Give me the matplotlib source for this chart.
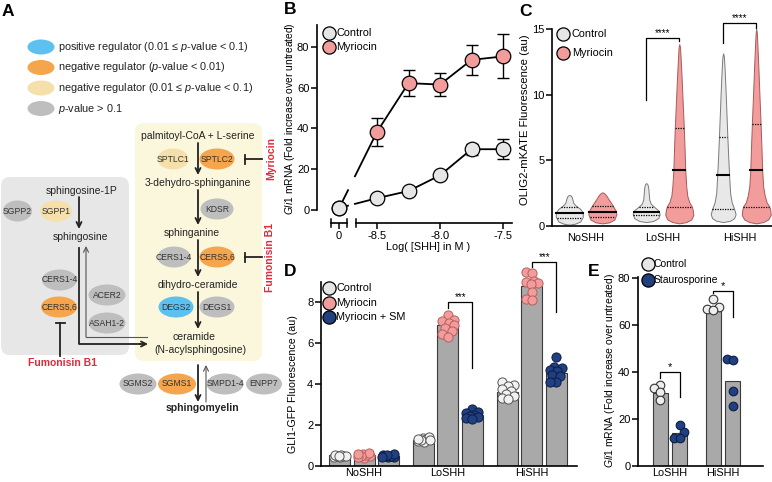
import matplotlib.pyplot as plt
import numpy as np
from matplotlib.patches import Ellipse, FancyBboxPatch

plt.rcParams['font.family'] = ['Liberation Sans', 'DejaVu Sans']
plt.rcParams['mathtext.fontset'] = 'custom'
plt.rcParams['mathtext.rm'] = 'Liberation Sans'
plt.rcParams['mathtext.it'] = 'Liberation Sans:italic'
plt.rcParams['axes.linewidth'] = 1.2
plt.rcParams['xtick.major.width'] = 1.1
plt.rcParams['ytick.major.width'] = 1.1

# ---------------- data ----------------
# panel A: pathway
enzyme_names = ["SGPP2", "SGPP1", "CERS1-4", "CERS5,6", "ACER2", "ASAH1-2",
                "SPTLC1", "SPTLC2", "KDSR", "CERS1-4", "CERS5,6", "DEGS2", "DEGS1",
                "SGMS2", "SGMS1", "SMPD1-4", "ENPP7"]
enzyme_class = ["ns", "neg_weak", "ns", "neg", "ns", "ns",
                "neg_weak", "neg", "ns", "ns", "neg", "pos", "ns",
                "ns", "neg", "ns", "ns"]
class_order = ["pos", "neg", "neg_weak", "ns"]
class_labels = ["positive regulator (0.01 \u2264 $\\it{p}$-value < 0.1)",
                "negative regulator ($\\it{p}$-value < 0.01)",
                "negative regulator (0.01 \u2264 $\\it{p}$-value < 0.1)",
                "$\\it{p}$-value > 0.1"]
metabolites = ["palmitoyl-CoA + L-serine", "3-dehydro-sphinganine", "sphinganine",
               "dihydro-ceramide", "ceramide", "(N-acylsphingosine)",
               "sphingosine-1P", "sphingosine"]

# panel B: dose response
shh_log = [-8.5, -8.25, -8.0, -7.75, -7.5]
b_ctrl = [1.0, 5.8, 9.3, 17.0, 29.8, 29.8]      # first value = no SHH
b_ctrl_err = [0.3, 0.6, 0.8, 1.2, 2.8, 4.8]
b_myr = [1.0, 38.3, 62.2, 61.5, 73.6, 75.3]
b_myr_err = [0.5, 7.0, 6.3, 5.8, 7.3, 10.8]

# panel C: violins (value grid, relative density), quartiles
conds = ["NoSHH", "LoSHH", "HiSHH"]
violin_y = {
    "No-C": [0.1, 0.18, 0.35, 0.7, 1.0, 1.3, 1.55, 1.75, 2.05, 2.25, 2.33, 2.36],
    "No-M": [0.2, 0.28, 0.5, 0.9, 1.2, 1.6, 2.0, 2.3, 2.45, 2.53, 2.56],
    "Lo-C": [0.3, 0.38, 0.6, 0.9, 1.2, 1.45, 1.7, 2.0, 2.5, 2.9, 3.12, 3.22, 3.26],
    "Lo-M": [0.2, 0.3, 0.5, 0.85, 1.2, 1.5, 1.8, 2.3, 3.0, 4.25, 6.0, 7.5, 9.5, 11.5, 13.0, 13.6, 13.85],
    "Hi-C": [0.3, 0.4, 0.6, 0.9, 1.3, 1.8, 2.5, 3.9, 5.5, 6.8, 8.5, 10.5, 12.2, 12.9, 13.15],
    "Hi-M": [0.2, 0.3, 0.5, 0.85, 1.2, 1.5, 1.8, 2.3, 3.0, 4.25, 6.0, 7.8, 10.0, 12.0, 13.8, 14.7, 15.0],
}
violin_w = {
    "No-C": [0, 0.41, 0.76, 0.93, 0.93, 0.76, 0.45, 0.28, 0.21, 0.15, 0.08, 0],
    "No-M": [0, 0.48, 0.83, 0.97, 0.9, 0.69, 0.45, 0.28, 0.17, 0.08, 0],
    "Lo-C": [0, 0.48, 0.83, 0.93, 0.83, 0.55, 0.31, 0.21, 0.17, 0.14, 0.1, 0.06, 0],
    "Lo-M": [0, 0.48, 0.83, 0.97, 0.93, 0.86, 0.69, 0.55, 0.48, 0.41, 0.36, 0.31, 0.23, 0.15, 0.08, 0.05, 0],
    "Hi-C": [0, 0.48, 0.76, 0.86, 0.76, 0.59, 0.48, 0.41, 0.34, 0.29, 0.23, 0.16, 0.09, 0.05, 0],
    "Hi-M": [0, 0.48, 0.83, 1.0, 0.97, 0.9, 0.72, 0.59, 0.48, 0.41, 0.36, 0.3, 0.22, 0.15, 0.08, 0.04, 0],
}
violin_q1 = {"No-C": 0.6, "No-M": 0.66, "Lo-C": 0.8, "Lo-M": 1.45, "Hi-C": 1.3, "Hi-M": 1.45}
violin_med = {"No-C": 0.99, "No-M": 1.09, "Lo-C": 1.08, "Lo-M": 4.25, "Hi-C": 3.9, "Hi-M": 4.25}
violin_q3 = {"No-C": 1.45, "No-M": 1.52, "Lo-C": 1.47, "Lo-M": 7.45, "Hi-C": 6.8, "Hi-M": 7.8}
c_sig = [(1, 9.6, 14.05, 14.3, "****"), (2, 13.9, 15.05, 15.45, "****")]

# panel D: GLI1-GFP
d_ctrl = [0.54, 1.27, 3.61]
d_myr = [0.56, 6.88, 8.78]
d_sm = [0.50, 2.49, 4.54]
d_ctrl_pts = [[0.42, 0.45, 0.48, 0.5, 0.52, 0.55, 0.47, 0.5],
              [1.22, 1.35, 1.30, 1.40, 1.18, 1.28, 1.33, 1.25],
              [4.1, 3.95, 3.9, 3.75, 3.65, 3.5, 3.4, 3.3, 3.25]]
d_myr_pts = [[0.40, 0.48, 0.55, 0.6, 0.62, 0.5, 0.45, 0.58],
             [7.35, 7.1, 7.05, 6.95, 6.85, 6.75, 6.6, 6.45, 6.3],
             [9.45, 9.4, 9.0, 8.95, 8.9, 8.85, 8.5, 8.15, 8.1]]
d_sm_pts = [[0.42, 0.45, 0.5, 0.55, 0.6, 0.48, 0.52, 0.44],
            [2.8, 2.65, 2.6, 2.5, 2.45, 2.4, 2.35, 2.3],
            [5.3, 4.85, 4.8, 4.7, 4.65, 4.45, 4.4, 4.1, 4.1]]
d_sig = [(1, 7.7, 4.78, 8.0, "***"), (2, 9.7, 7.5, 9.95, "***")]

# panel E: staurosporine
e_conds = ["LoSHH", "HiSHH"]
e_ctrl = [31.0, 67.6]
e_stau = [14.0, 36.2]
e_ctrl_pts = [[34.5, 33.0, 31.5, 28.0], [71.0, 67.5, 66.8, 66.5]]
e_stau_pts = [[17.5, 14.5, 12.0, 12.0], [45.5, 45.2, 32.0, 25.5]]
e_sig = [(0, 37.4, 29.4, 40.0, "*"), (1, 73.6, 63.4, 74.5, "*")]

# ---------------- style ----------------
C_GREY = '#e6e6e6'
C_PINK = '#f29c9c'
C_NAVY = '#21407f'
C_RED = '#e02a3a'
BAR = '#a9a9a9'
cls_color = {"pos": '#5cc1ef', "neg": '#f5a54c', "neg_weak": '#f5e0ac', "ns": '#bebebe'}
FS = 7.8

W, H = 772, 482
fig = plt.figure(figsize=(W / 100, H / 100), dpi=100)


def px_axes(x0, y0, x1, y1):
    ax = fig.add_axes([x0 / W, 1 - y1 / H, (x1 - x0) / W, (y1 - y0) / H])
    ax.patch.set_alpha(0)
    for s in ('top', 'right'):
        ax.spines[s].set_visible(False)
    ax.tick_params(labelsize=8, length=4, pad=1.5, direction='out')
    return ax


def swarm(values, center, xscale, yscale, diam, max_off):
    xs = np.zeros(len(values))
    placed = []
    cands = sorted(np.arange(-max_off, max_off + 0.1, 1.0), key=abs)
    for i in np.argsort(values):
        ypx = values[i] * yscale
        best, alt, alt_d = None, 0.0, -1
        for c in cands:
            dmin = min([np.hypot(c - px, ypx - py) for px, py in placed], default=1e9)
            if dmin >= 0.8 * diam:
                best = c
                break
            if dmin > alt_d:
                alt, alt_d = c, dmin
        if best is None:
            best = alt
        placed.append((best, ypx))
        xs[i] = center + best / xscale
    return xs


def bracket(ax, xl, xr, yl, yr, top, label, fs=7):
    ax.plot([xl, xl, xr, xr], [yl, top, top, yr], color='k', lw=0.9, clip_on=False)
    ax.text((xl + xr) / 2, top, label, ha='center', va='bottom', fontsize=fs)

# ---------------- panel B ----------------
ZERO_POS = -8.80
BREAK_L, BREAK_R = -8.73, -8.675
axB = px_axes(317, 25, 512, 223)
axB.set_xlim(-8.976, -7.429)
axB.set_ylim(-6.37, 90.7)
axB.spines['bottom'].set_visible(False)
axB.spines['left'].set_bounds(0, 90.7)
axB.set_yticks([0, 20, 40, 60, 80])
axB.set_xticks([ZERO_POS, -8.5, -8.0, -7.5])
axB.set_xticklabels(['0', '-8.5', '-8.0', '-7.5'])
tr = axB.get_xaxis_transform()
cap = 4 / 198
axB.plot([-8.865, -8.735], [0, 0], color='k', lw=1.2, transform=tr, clip_on=False)
axB.plot([-8.667, -7.429], [0, 0], color='k', lw=1.2, transform=tr, clip_on=False)
for xc in (-8.865, -8.735, -8.667):
    axB.plot([xc, xc], [-cap, cap], color='k', lw=1.1, transform=tr, clip_on=False)

xs_b = [ZERO_POS] + shh_log
for vals, errs, fc in ((b_myr, b_myr_err, C_PINK), (b_ctrl, b_ctrl_err, C_GREY)):
    yb = np.interp([BREAK_L, BREAK_R], xs_b[:2], vals[:2])
    axB.plot([xs_b[0], BREAK_L], [vals[0], yb[0]], color='k', lw=1.3, zorder=2)
    axB.plot([BREAK_R] + xs_b[1:], [yb[1]] + vals[1:], color='k', lw=1.3, zorder=2)
    axB.errorbar(xs_b, vals, yerr=errs, fmt='none', ecolor='k', elinewidth=1.0,
                 capsize=4.5, capthick=1.0, zorder=2)
    axB.plot(xs_b, vals, 'o', ms=10.5, mfc=fc, mec='k', mew=0.9, zorder=3, clip_on=False)

# ---------------- panel C ----------------
axC = px_axes(552, 29, 772, 226)
axC.set_xlim(-0.44, 2.42)
axC.set_ylim(0, 15)
axC.set_yticks([0, 5, 10, 15])
axC.set_xticks([0, 1, 2])
axC.set_xticklabels(conds, fontsize=FS)
axC.tick_params(axis='x', length=0, pad=5)
VH = 14.5 / 77
for gi, g in enumerate(["No", "Lo", "Hi"]):
    for key, off, fc, ec in ((g + "-C", -0.215, '#e8e8e8', '#7a7a7a'),
                             (g + "-M", 0.215, C_PINK, '#a85a5a')):
        ys = np.array(violin_y[key])
        w = np.array(violin_w[key]) * VH
        xc = gi + off
        axC.fill_betweenx(ys, xc - w, xc + w, facecolor=fc, edgecolor=ec, lw=0.7, zorder=2)
        for q, ls, lw in ((violin_q1[key], (0, (1, 1)), 0.9), (violin_med[key], '-', 1.5),
                          (violin_q3[key], (0, (1, 1)), 0.9)):
            hw = np.interp(q, ys, w)
            axC.plot([xc - hw, xc + hw], [q, q], color='k', ls=ls, lw=lw, zorder=3)
for gi, yl, yr, top, lab in c_sig:
    bracket(axC, gi - 0.215, gi + 0.215, yl, yr, top, lab)

# ---------------- panel D ----------------
axD = px_axes(321, 282, 577, 466)
axD.set_xlim(-0.512, 2.536)
axD.set_ylim(0, 8.97)
axD.set_yticks([0, 2, 4, 6, 8])
axD.set_xticks([0, 1, 2])
axD.set_xticklabels(conds, fontsize=FS)
axD.tick_params(axis='x', length=0, pad=1.5)
offs = [-0.29, 0.0, 0.29]
series_d = [(d_ctrl, d_ctrl_pts, '#f2f2f2', '#555555'),
            (d_myr, d_myr_pts, C_PINK, '#b8605f'),
            (d_sm, d_sm_pts, C_NAVY, '#0c1c48')]
for si, (means, pts, fc, ec) in enumerate(series_d):
    x = np.arange(3) + offs[si]
    axD.bar(x, means, width=0.25, color=BAR, edgecolor='#3a3a3a', lw=0.8, zorder=1)
    for gi in range(3):
        px = swarm(np.array(pts[gi]), x[gi], 84, 20.5, 9, 6)
        axD.plot(px, pts[gi], 'o', ms=6.6, mfc=fc, mec=ec, mew=0.7, zorder=3, clip_on=False)
for gi, yl, yr, top, lab in d_sig:
    bracket(axD, gi, gi + 0.29, yl, yr, top, lab)

# ---------------- panel E ----------------
axE = px_axes(638, 277, 763, 466)
axE.set_xlim(-0.604, 1.755)
axE.set_ylim(0, 80.4)
axE.set_yticks([0, 20, 40, 60, 80])
axE.set_xticks([0, 1])
axE.set_xticklabels(e_conds, fontsize=FS)
axE.tick_params(axis='x', length=0, pad=1.5)
series_e = [(e_ctrl, e_ctrl_pts, '#eeeeee', '#333333', -0.184),
            (e_stau, e_stau_pts, C_NAVY, '#0c1c48', 0.184)]
for means, pts, fc, ec, off in series_e:
    x = np.arange(2) + off
    axE.bar(x, means, width=0.283, color=BAR, edgecolor='#3a3a3a', lw=0.8, zorder=1)
    for gi in range(2):
        px = swarm(np.array(pts[gi]), x[gi], 53, 2.35, 8.5, 6)
        axE.plot(px, pts[gi], 'o', ms=6.2, mfc=fc, mec=ec, mew=0.8, zorder=3, clip_on=False)
for gi, yl, yr, top, lab in e_sig:
    bracket(axE, gi - 0.184, gi + 0.184, yl, yr, top, lab, fs=8)

# ---------------- overlay: panel A, labels, legends ----------------
ov = fig.add_axes([0, 0, 1, 1])
ov.set_zorder(10)
ov.patch.set_alpha(0)
ov.set_xlim(0, W)
ov.set_ylim(H, 0)
ov.axis('off')

for lab, (x, y) in zip("ABCDE", [(8, 12), (290, 10), (526, 12), (290, 271), (594, 271)]):
    ov.text(x, y, lab, fontsize=12.5, fontweight='bold', ha='center', va='center')

# legend of A
for i, (c, lab) in enumerate(zip(class_order, class_labels)):
    y = 47 + i * 20.5
    ov.add_patch(Ellipse((41, y), 27, 15, facecolor=cls_color[c], edgecolor='none'))
    ov.text(58, y, lab, fontsize=7.8, va='center', ha='left', color='#222')

# boxes
ov.add_patch(FancyBboxPatch((1, 177), 128, 178, boxstyle='round,pad=0,rounding_size=9',
                            facecolor='#e7e7e7', edgecolor='none', zorder=0))
ov.add_patch(FancyBboxPatch((135, 123), 127, 238, boxstyle='round,pad=0,rounding_size=9',
                            facecolor='#faf7dd', edgecolor='none', zorder=0))

met_xy = [(198, 136), (198, 183), (192, 233), (198, 285), (194, 337), (200, 350),
          (82, 191), (80, 237)]
for name, (x, y) in zip(metabolites, met_xy):
    ov.text(x, y, name, fontsize=7.5, ha='center', va='center', color='#222')
ov.text(202, 408, "sphingomyelin", fontsize=7.5, fontweight='bold', ha='center',
        va='center', color='#222')

enzyme_xy = [(17.5, 211), (56, 211), (59.5, 280), (59, 307), (107, 295), (107, 323),
             (173, 159), (217, 159), (217, 209), (174, 257), (217, 257), (176, 307),
             (217, 307), (138, 384), (177, 384), (225, 384), (264, 384)]
enzyme_w = [29, 32, 35, 36, 37, 37, 31, 35, 33, 33, 35, 35, 35, 37, 38, 37, 36]
for name, cl, (x, y), w in zip(enzyme_names, enzyme_class, enzyme_xy, enzyme_w):
    ov.add_patch(Ellipse((x, y), w, 21, facecolor=cls_color[cl], edgecolor='none', zorder=1))
    ov.text(x, y, name, fontsize=6.2, ha='center', va='center', color='#333', zorder=2)


def arrow(p0, p1, lw=1.3, color='#222'):
    ov.annotate('', xy=p1, xytext=p0,
                arrowprops=dict(arrowstyle='->', lw=lw, color=color, shrinkA=0, shrinkB=0,
                                mutation_scale=9))


for y0, y1 in ((143, 175), (190, 225), (240, 277), (292, 329)):
    arrow((198, y0), (198, y1))
arrow((79, 197), (79, 229))
ov.plot([79, 79, 140], [248, 344, 344], color='#222', lw=1.3)
arrow((140, 344), (148, 344))
ov.plot([147, 86], [337, 337], color='#555', lw=0.8)
arrow((86, 337), (86, 246), lw=0.8, color='#555')
arrow((198, 365), (198, 402))
arrow((206, 402), (206, 365), lw=0.8, color='#555')

# inhibitors
for y in (159, 257):
    ov.plot([245, 262], [y, y], color='#222', lw=1.3)
    ov.plot([245, 245], [y - 4.5, y + 4.5], color='#222', lw=1.3)
ov.plot([60, 60], [323, 356], color='#222', lw=1.3)
ov.plot([55.5, 64.5], [323, 323], color='#222', lw=1.3)
ov.text(62, 363, "Fumonisin B1", fontsize=7.5, fontweight='bold', color=C_RED,
        ha='center', va='center')
ov.text(271, 158, "Myriocin", fontsize=7.5, fontweight='bold', color=C_RED,
        ha='center', va='center', rotation=90)
ov.text(270, 257, "Fumonisin B1", fontsize=7.5, fontweight='bold', color=C_RED,
        ha='center', va='center', rotation=90)

# axis labels
gli = "$\\it{Gli1}$ mRNA (Fold increase over untreated)"
ov.text(290, 119, gli, fontsize=7.4, rotation=90, ha='center', va='center')
ov.text(428, 247, "Log( [SHH] in M )", fontsize=7.8, ha='center', va='center')
ov.text(525, 120, "OLIG2-mKATE Fluorescence (au)", fontsize=8.2, rotation=90,
        ha='center', va='center')
ov.text(293, 384, "GLI1-GFP Fluorescence (au)", fontsize=7.7, rotation=90,
        ha='center', va='center')
ov.text(610, 370, gli, fontsize=7.5, rotation=90, ha='center', va='center')


def legend_rows(x, y0, dy, labels, faces, dx=7.5, fs=FS):
    for i, (lab, fc) in enumerate(zip(labels, faces)):
        y = y0 + i * dy
        ov.plot(x, y, 'o', ms=9.5, mfc=fc, mec='k', mew=0.9)
        ov.text(x + dx, y, lab, va='center', ha='left', fontsize=fs)


legend_rows(329, 33, 14, ["Control", "Myriocin"], [C_GREY, C_PINK])
legend_rows(563, 34, 19, ["Control", "Myriocin"], [C_GREY, C_PINK], dx=9)
legend_rows(329, 288, 14.5, ["Control", "Myriocin", "Myriocin + SM"], [C_GREY, C_PINK, C_NAVY])
legend_rows(648, 264, 16, ["Control", "Staurosporine"], [C_GREY, C_NAVY], dx=6, fs=7.5)

fig.savefig("out.png", dpi=100)
